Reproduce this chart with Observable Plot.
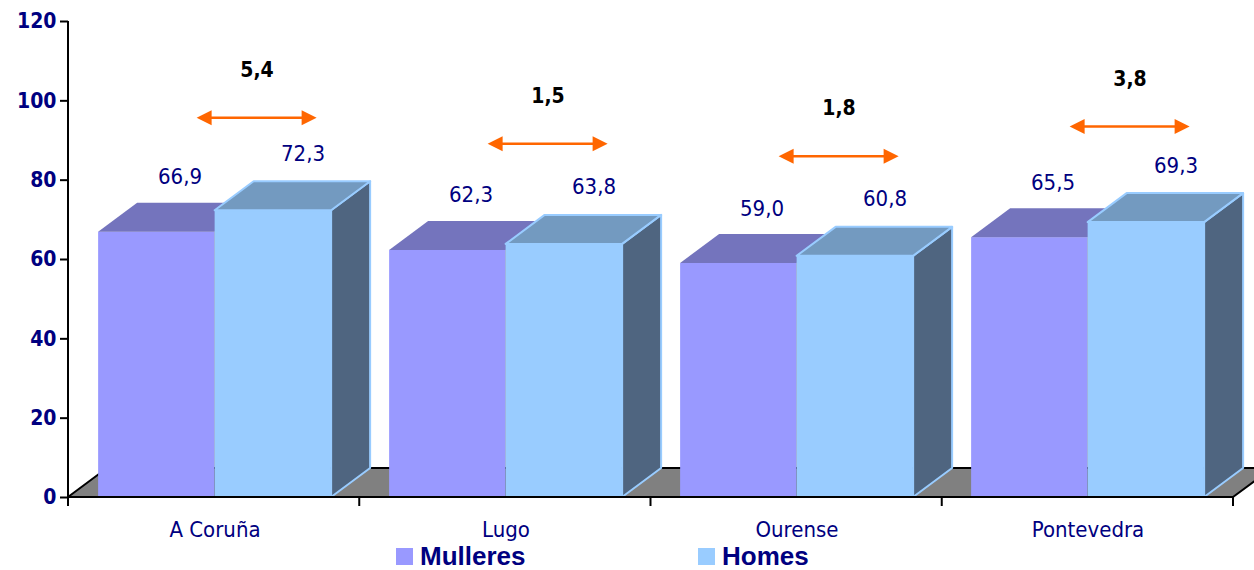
<!DOCTYPE html>
<html><head><meta charset="utf-8">
<script src="https://cdn.jsdelivr.net/npm/d3@7"></script>
<script src="https://cdn.jsdelivr.net/npm/@observablehq/plot@0.6"></script>
<style>
body{margin:0;background:#fff;}
#wrap{position:relative;width:1254px;height:570px;overflow:hidden;background:#fff;}
#wrap svg{display:block;}
.lg{position:absolute;font:bold 26px "Liberation Sans",Arial,sans-serif;color:#000080;line-height:22px;white-space:nowrap;}
.sw{position:absolute;width:17px;height:17px;}
</style></head><body><div id="wrap"></div>
<script>
// ---- data ----
const categories = ["A Coruña", "Lugo", "Ourense", "Pontevedra"];
const seriesNames = ["Mulleres", "Homes"];
const mulleres = [66.9, 62.3, 59.0, 65.5];
const homes = [72.3, 63.8, 60.8, 69.3];
const yTicks = [0, 20, 40, 60, 80, 100, 120];

const rowsM = categories.map((c, i) => ({cat: c, series: seriesNames[0], value: mulleres[i]}));
const rowsH = categories.map((c, i) => ({cat: c, series: seriesNames[1], value: homes[i]}));
const diffs = categories.map((c, i) => ({cat: c, diff: homes[i] - mulleres[i], level: (homes[i] + mulleres[i]) / 2 + 26}));

const fmt = v => v.toFixed(1).replace(".", ",");

// ---- layout ----
const W = 1254, H = 545, ML = 68, MR = 21, MT = 21, MB = 48;
const bw = (W - ML - MR) / categories.length;
const DX = 39, DY = 29;
const NAVY = "#000080";
const FONT = "'DejaVu Sans Condensed', 'DejaVu Sans', Verdana, sans-serif";

function floorMark(index, scales, values, dims) {
  const g = d3.create("svg:g");
  const xl = dims.marginLeft, xr = dims.width - dims.marginRight, yb = scales.y(0);
  g.append("path")
    .attr("d", `M${xl},${yb}L${xr},${yb}L${xr + DX},${yb - DY}L${xl + DX},${yb - DY}Z`)
    .attr("fill", "#808080").attr("stroke", "#000").attr("stroke-width", 2).attr("stroke-linejoin", "round");
  return g.node();
}

function facesMark(rows, f0, f1, topFill, sideFill, stroke) {
  return (index, scales, values, dims) => {
    const g = d3.create("svg:g");
    for (const r of rows) {
      const b = scales.x(r.cat);
      const xa = b + bw * f0, xb = b + bw * f1;
      const yt = scales.y(r.value), yb = scales.y(0);
      const common = p => p.attr("stroke", stroke || "none").attr("stroke-width", stroke ? 2 : 0).attr("stroke-linejoin", "round");
      common(g.append("path")
        .attr("d", `M${xb},${yt}L${xb + DX},${yt - DY}L${xb + DX},${yb - DY}L${xb},${yb}Z`)
        .attr("fill", sideFill));
      common(g.append("path")
        .attr("d", `M${xa},${yt}L${xb},${yt}L${xb + DX},${yt - DY}L${xa + DX},${yt - DY}Z`)
        .attr("fill", topFill));
    }
    return g.node();
  };
}

function axesLines(index, scales, values, dims) {
  const g = d3.create("svg:g").attr("stroke", "#000").attr("stroke-width", 2);
  const xl = dims.marginLeft, xr = dims.width - dims.marginRight, yb = scales.y(0);
  g.append("line").attr("x1", xl).attr("x2", xr).attr("y1", yb).attr("y2", yb);
  g.append("line").attr("x1", xl).attr("x2", xl).attr("y1", scales.y(120)).attr("y2", yb + 9);
  for (let i = 0; i <= categories.length; i++) {
    const x = xl + i * bw;
    g.append("line").attr("x1", x).attr("x2", x).attr("y1", yb).attr("y2", yb + 9);
  }
  return g.node();
}

function arrowsMark(index, scales, values, dims) {
  const g = d3.create("svg:g");
  const half = 60, hl = 15, hw = 7.5;
  for (const d of diffs) {
    const cx = scales.x(d.cat) + bw / 2 + 42;
    const y = scales.y(d.level);
    const x0 = cx - half, x1 = cx + half;
    g.append("line").attr("x1", x0 + hl - 1).attr("x2", x1 - hl + 1).attr("y1", y).attr("y2", y)
      .attr("stroke", "#FF6600").attr("stroke-width", 2.5);
    g.append("path").attr("d", `M${x0},${y}L${x0 + hl},${y - hw}L${x0 + hl},${y + hw}Z`).attr("fill", "#FF6600");
    g.append("path").attr("d", `M${x1},${y}L${x1 - hl},${y - hw}L${x1 - hl},${y + hw}Z`).attr("fill", "#FF6600");
  }
  return g.node();
}

const chart = Plot.plot({
  width: W, height: H,
  marginLeft: ML, marginRight: MR, marginTop: MT, marginBottom: MB,
  style: {fontFamily: FONT, background: "#fff", overflow: "hidden"},
  x: {domain: categories, padding: 0, label: null},
  y: {domain: [0, 120], label: null},
  marks: [
    floorMark,
    Plot.barY(rowsM, {x: "cat", y: "value", fill: "#9999FF", insetLeft: bw * 0.1, insetRight: bw * 0.5}),
    facesMark(rowsM, 0.1, 0.5, "#7474BD", "#4D4D80", null),
    Plot.barY(rowsH, {x: "cat", y: "value", fill: "#99CCFF", insetLeft: bw * 0.5, insetRight: bw * 0.1}),
    facesMark(rowsH, 0.5, 0.9, "#739AC0", "#4F6580", "#99CCFF"),
    axesLines,
    Plot.axisY({ticks: yTicks, tickSize: 8, tickPadding: 4, color: NAVY, stroke: "#000", strokeWidth: 2,
      fontSize: 21, fontWeight: "bold", label: null, tickFormat: d => String(d)}),
    Plot.axisX({tickSize: 0, tickPadding: 24, color: NAVY, fontSize: 22, label: null}),
    Plot.text(rowsM, {x: "cat", y: "value", text: d => fmt(d.value), dx: -35, dy: -55, fill: NAVY, fontSize: 22}),
    Plot.text(rowsH, {x: "cat", y: "value", text: d => fmt(d.value), dx: 88, dy: -57, fill: NAVY, fontSize: 22}),
    arrowsMark,
    Plot.text(diffs, {x: "cat", y: "level", text: d => fmt(d.diff), dx: 42, dy: -48, fill: "#000", fontSize: 21, fontWeight: "bold"})
  ]
});

const wrap = document.getElementById("wrap");
wrap.appendChild(chart);

// legend below the chart
const legend = [
  {name: seriesNames[0], color: "#9999FF", sx: 396, tx: 420},
  {name: seriesNames[1], color: "#99CCFF", sx: 698, tx: 722}
];
for (const l of legend) {
  const sw = document.createElement("div");
  sw.className = "sw";
  sw.style.left = l.sx + "px"; sw.style.top = "548px"; sw.style.background = l.color;
  wrap.appendChild(sw);
  const t = document.createElement("div");
  t.className = "lg";
  t.style.left = l.tx + "px"; t.style.top = "545px";
  t.textContent = l.name;
  wrap.appendChild(t);
}
</script>
</body></html>
